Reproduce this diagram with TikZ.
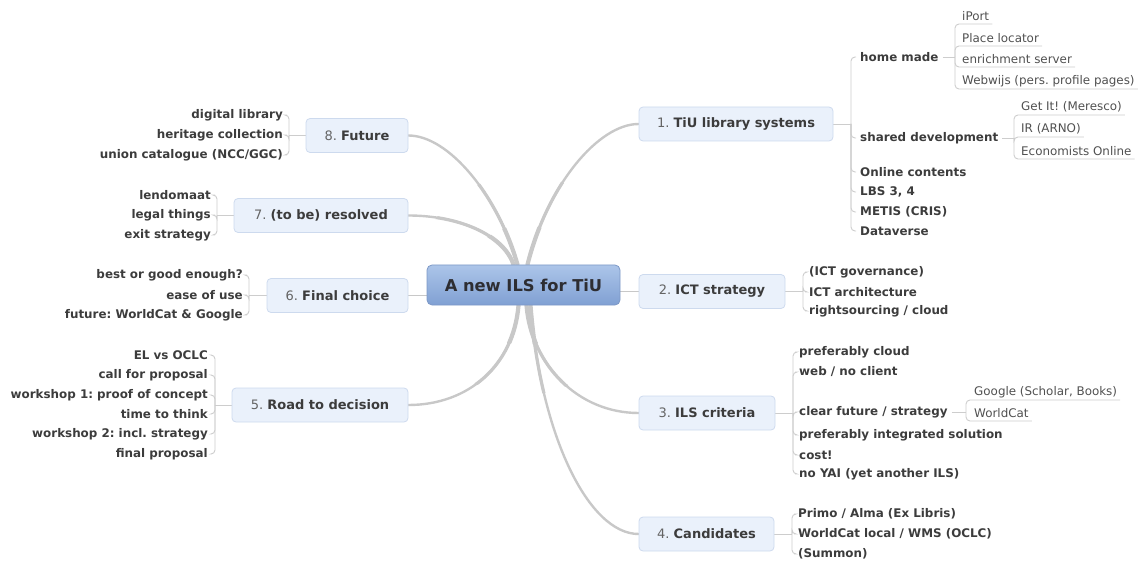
\documentclass[tikz,border=0pt]{standalone}
\usepackage{fontspec}
\setmainfont{DejaVu Sans}
\usetikzlibrary{calc,backgrounds}
\definecolor{boxfill}{RGB}{234,241,251}
\definecolor{boxdraw}{RGB}{205,218,238}
\definecolor{roottop}{RGB}{172,197,233}
\definecolor{rootbot}{RGB}{128,160,211}
\definecolor{rootdraw}{RGB}{125,152,198}
\definecolor{txt}{RGB}{60,60,60}
\definecolor{numc}{RGB}{100,100,100}
\definecolor{leafc}{RGB}{80,80,80}
\definecolor{curvec}{RGB}{200,200,200}
\definecolor{thinc}{RGB}{205,205,205}
\frenchspacing
\newcommand\mmcurves{%
  \draw[bigline] ([xshift=4]root.north) .. controls +(20,-80) and +(-40,0) .. (b1.west);
  \draw[bigline] ([xshift=-6]root.north) .. controls +(-20,-70) and +(40,0) .. (b8.east);
  \draw[bigline] ([xshift=-10]root.north) .. controls +(-10,-30) and +(50,0) .. (b7.east);
  \draw[bigline] ([xshift=-5]root.south) .. controls +(-5,60) and +(60,0) .. (b5.east);
  \draw[bigline] ([xshift=3]root.south) .. controls +(5,60) and +(-60,0) .. (b3.west);
  \draw[bigline] ([xshift=7]root.south) .. controls +(10,130) and +(-50,0) .. (b4.west);}
\begin{document}
\begin{tikzpicture}[x=1pt,y=-1pt,
  topic/.style={draw=boxdraw, fill=boxfill, rounded corners=4pt, minimum height=34pt,
    inner xsep=6pt, font=\fontsize{13}{15}\selectfont, text=txt, line width=0.8pt},
  sub/.style={font=\fontsize{11.9}{13}\selectfont\bfseries, text=txt, inner xsep=4pt, inner ysep=1pt},
  rsub/.style={sub, anchor=west},
  lsub/.style={sub, anchor=east},
  leaf/.style={font=\fontsize{11.9}{13}\selectfont, text=leafc, anchor=west, inner sep=0pt},
  bigline/.style={draw=curvec, line cap=round},
  thinline/.style={draw=thinc, line width=0.9pt, rounded corners=4pt},
  shortline/.style={draw=curvec, line width=1.6pt}]
\useasboundingbox (0,0) rectangle (1145,561);

% root
\node[draw=rootdraw, top color=roottop, bottom color=rootbot, rounded corners=5pt,
  minimum width=193pt, minimum height=40pt, line width=0.8pt,
  font=\fontsize{16.3}{19}\selectfont\bfseries, text={rgb,255:red,45;green,45;blue,50}]
  (root) at (523.5,285) {A new ILS for TiU};

% main topics
\node[topic, minimum width=194pt] (b1) at (736,124) {{\color{numc}1.} \textbf{TiU library systems}};
\node[topic, minimum width=146pt] (b2) at (712,291.5) {{\color{numc}2.} \textbf{ICT strategy}};
\node[topic, minimum width=136pt] (b3) at (707,413) {{\color{numc}3.} \textbf{ILS criteria}};
\node[topic, minimum width=135pt] (b4) at (706.5,534) {{\color{numc}4.} \textbf{Candidates}};
\node[topic, minimum width=102pt] (b8) at (357,135.5) {{\color{numc}8.} \textbf{Future}};
\node[topic, minimum width=174pt] (b7) at (321,215.5) {{\color{numc}7.} \textbf{(to be) resolved}};
\node[topic, minimum width=141pt] (b6) at (337.5,295.5) {{\color{numc}6.} \textbf{Final choice}};
\node[topic, minimum width=176pt] (b5) at (320,405) {{\color{numc}5.} \textbf{Road to decision}};

% junctions
\coordinate (j1) at (851,124);
\coordinate (j2) at (803,291.5);
\coordinate (j3) at (793,413);
\coordinate (j4) at (792,534);
\coordinate (j8) at (289,135.5);
\coordinate (j7) at (217,215.5);
\coordinate (j6) at (249,295.5);
\coordinate (j5) at (215,405);
\coordinate (jH) at (955,57);
\coordinate (jS) at (1014,138);
\coordinate (jC) at (966,412);

% branch 1 children
\node[rsub] (hm) at (856,57) {home made};
\node[rsub] (sd) at (856,138) {shared development};
\node[rsub] (oc) at (856,172) {Online contents};
\node[rsub] (lbs) at (856,192) {LBS 3, 4};
\node[rsub] (met) at (856,212) {METIS (CRIS)};
\node[rsub] (dv) at (856,231) {Dataverse};
% leaves home made
\node[leaf] (ip) at (962,16) {iPort};
\node[leaf] (pl) at (962,38) {Place locator};
\node[leaf] (es) at (962,59) {enrichment server};
\node[leaf] (ww) at (962,81) {Webwijs (pers. profile pages)};
% leaves shared development
\node[leaf] (gi) at (1021,107) {Get It! (Meresco)};
\node[leaf] (ir) at (1021,129) {IR (ARNO)};
\node[leaf] (eo) at (1021,151) {Economists Online};

% branch 2 children
\node[rsub] (ig) at (805,272) {(ICT governance)};
\node[rsub] (ia) at (805,292) {ICT architecture};
\node[rsub] (rs) at (805,311) {rightsourcing / cloud};

% branch 3 children
\node[rsub] (pc) at (795,352) {preferably cloud};
\node[rsub] (wn) at (795,372) {web / no client};
\node[rsub] (cf) at (795,412) {clear future / strategy};
\node[rsub] (pi) at (795,435) {preferably integrated solution};
\node[rsub] (co) at (795,455) {cost!};
\node[rsub] (ny) at (795,474) {no YAI (yet another ILS)};
\node[leaf] (go) at (974,392) {Google (Scholar, Books)};
\node[leaf] (wc) at (974,413) {WorldCat};

% branch 4 children
\node[rsub] (pa) at (794,514) {Primo / Alma (Ex Libris)};
\node[rsub] (wl) at (794,534) {WorldCat local / WMS (OCLC)};
\node[rsub] (su) at (794,554) {(Summon)};

% branch 8 children
\node[lsub] (dl) at (287,115) {digital library};
\node[lsub] (hc) at (287,135) {heritage collection};
\node[lsub] (uc) at (287,155) {union catalogue (NCC/GGC)};

% branch 7 children
\node[lsub] (ld) at (215,195) {lendomaat};
\node[lsub] (lt) at (215,215) {legal things};
\node[lsub] (ex) at (215,235) {exit strategy};

% branch 6 children
\node[lsub] (bg) at (247,275) {best or good enough?};
\node[lsub] (eu) at (247,295) {ease of use};
\node[lsub] (fw) at (247,315) {future: WorldCat \& Google};

% branch 5 children
\node[lsub] (el) at (212,355) {EL vs OCLC};
\node[lsub] (cp) at (212,375) {call for proposal};
\node[lsub] (w1) at (212,395) {workshop 1: proof of concept};
\node[lsub] (tt) at (212,414) {time to think};
\node[lsub] (w2) at (212,434) {workshop 2: incl. strategy};
\node[lsub] (fp) at (212,454) {final proposal};

\begin{scope}[on background layer]
  % main curves, tapered towards the topics
  \begin{scope}[line width=2.4pt]\mmcurves\end{scope}
  \begin{scope}
    \clip (root.center) circle (110);
    \begin{scope}[line width=3.2pt]\mmcurves\end{scope}
  \end{scope}
  \begin{scope}
    \clip (root.center) circle (60);
    \begin{scope}[line width=4.2pt]\mmcurves\end{scope}
  \end{scope}
  \draw[shortline] (b6.east -| root.west) -- (b6.east);
  \draw[shortline] (b2.west -| root.east) -- (b2.west);

  % topic to junctions
  \draw[thinline] (b1.east) -- (j1);
  \draw[thinline] (b2.east) -- (j2);
  \draw[thinline] (b3.east) -- (j3);
  \draw[thinline] (b4.east) -- (j4);
  \draw[thinline] (b8.west) -- (j8);
  \draw[thinline] (b7.west) -- (j7);
  \draw[thinline] (b6.west) -- (j6);
  \draw[thinline] (b5.west) -- (j5);

  % brackets right
  \foreach \n in {hm,sd,oc,lbs,met,dv} \draw[thinline] (j1) |- (\n.west);
  \foreach \n in {ig,ia,rs} \draw[thinline] (j2) |- (\n.west);
  \foreach \n in {pc,wn,cf,pi,co,ny} \draw[thinline] (j3) |- (\n.west);
  \foreach \n in {pa,wl,su} \draw[thinline] (j4) |- (\n.west);
  % brackets left
  \foreach \n in {dl,hc,uc} \draw[thinline] (j8) |- (\n.east);
  \foreach \n in {ld,lt,ex} \draw[thinline] (j7) |- (\n.east);
  \foreach \n in {bg,eu,fw} \draw[thinline] (j6) |- (\n.east);
  \foreach \n in {el,cp,w1,tt,w2,fp} \draw[thinline] (j5) |- (\n.east);

  % leaves
  \draw[thinline] (hm.east) -- (jH);
  \draw[thinline] (sd.east) -- (jS);
  \draw[thinline] (cf.east) -- (jC);
  \foreach \n in {ip,pl,es,ww}
    \draw[thinline] (jH) -- ([shift={(-7,8)}]\n.west) -- ([shift={(3,8)}]\n.east);
  \foreach \n in {gi,ir,eo}
    \draw[thinline] (jS) -- ([shift={(-7,8)}]\n.west) -- ([shift={(3,8)}]\n.east);
  \foreach \n in {go,wc}
    \draw[thinline] (jC) -- ([shift={(-8,8)}]\n.west) -- ([shift={(3,8)}]\n.east);
\end{scope}
\end{tikzpicture}
\end{document}
